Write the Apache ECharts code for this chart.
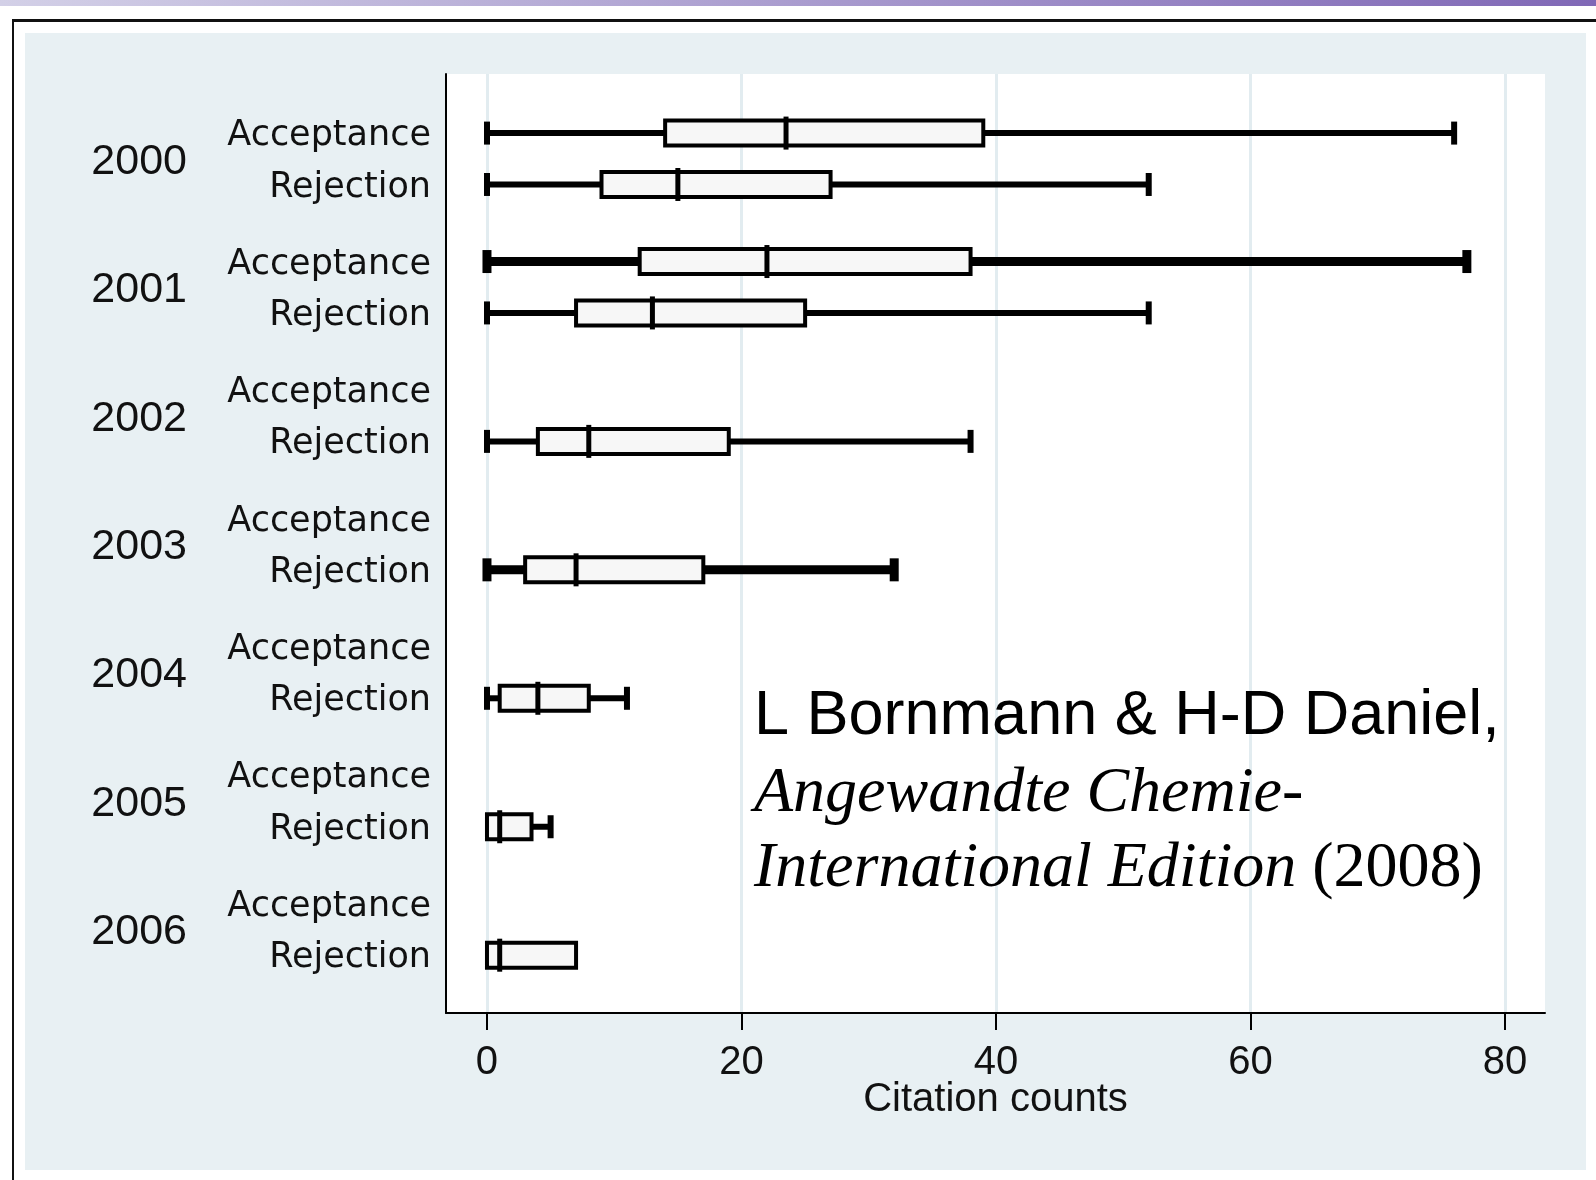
<!DOCTYPE html>
<html>
<head>
<meta charset="utf-8">
<script src="https://cdn.jsdelivr.net/npm/echarts@6/dist/echarts.min.js"></script>
<style>
  html, body { margin: 0; padding: 0; background: #ffffff; }
  #chart { width: 1596px; height: 1180px; }
</style>
</head>
<body>
<div id="chart"></div>
<script>
// Citation counts of manuscripts by publication year and editorial decision
const years = ['2000', '2001', '2002', '2003', '2004', '2005', '2006'];
const decisions = ['Acceptance', 'Rejection'];
// [min, Q1, median, Q3, max] per year; null where no box is drawn
const acceptanceStats = [
  [0, 14, 23.5, 39, 76],
  [0, 12, 22, 38, 77],
  null, null, null, null, null
];
const rejectionStats = [
  [0, 9, 15, 27, 52],
  [0, 7, 13, 25, 52],
  [0, 4, 8, 19, 38],
  [0, 3, 7, 17, 32],
  [0, 1, 4, 8, 11],
  [0, 0, 1, 3.5, 5],
  [0, 0, 1, 7, 7]
];
const xTicks = [0, 20, 40, 60, 80];
const xTitle = 'Citation counts';
const sourceLine1 = 'L Bornmann & H-D Daniel,';
const sourceLine2 = 'Angewandte Chemie-';
const sourceLine3a = 'International Edition';
const sourceLine3b = '(2008)';

// rows drawn with heavier whiskers
const heavyRows = new Set(['2001 Acceptance', '2003 Rejection']);

// each year takes five slots on the vertical axis: acceptance, year label, rejection, gap, gap
const SLOTS_PER_YEAR = 5;
const slotOf = (yearIdx, decIdx) => yearIdx * SLOTS_PER_YEAR + decIdx * 2;

const boxData = [];
const rowKeys = [];
years.forEach((yr, i) => {
  [acceptanceStats[i], rejectionStats[i]].forEach((s, d) => {
    if (!s) return;
    boxData.push([slotOf(i, d)].concat(s));
    rowKeys.push(yr + ' ' + decisions[d]);
  });
});

const labelSlots = [];
const labelText = {};
years.forEach((yr, i) => {
  labelSlots.push(slotOf(i, 0), slotOf(i, 0) + 1, slotOf(i, 1));
  labelText[slotOf(i, 0)] = decisions[0];
  labelText[slotOf(i, 0) + 1] = '{yr|' + yr + '}';
  labelText[slotOf(i, 1)] = decisions[1];
});

function renderBox(params, api) {
  const y = api.value(0);
  const vMin = api.value(1), q1 = api.value(2), med = api.value(3), q3 = api.value(4), vMax = api.value(5);
  const px = v => api.coord([v, y])[0];
  const cy = api.coord([q1, y])[1];
  const heavy = heavyRows.has(rowKeys[params.dataIndex]);
  const ww = heavy ? 9 : 6;
  const boxH = 25, capH = 23, medH = 33;
  const ink = '#000';
  const children = [];
  const seg = (x1, y1, x2, y2, w) => ({
    type: 'line',
    shape: { x1: x1, y1: y1, x2: x2, y2: y2 },
    style: { stroke: ink, lineWidth: w, lineCap: 'butt' }
  });
  if (q1 > vMin) {
    children.push(seg(px(vMin), cy, px(q1), cy, ww));
    children.push(seg(px(vMin), cy - capH / 2, px(vMin), cy + capH / 2, ww));
  }
  if (vMax > q3) {
    children.push(seg(px(q3), cy, px(vMax), cy, ww));
    children.push(seg(px(vMax), cy - capH / 2, px(vMax), cy + capH / 2, ww));
  }
  children.push({
    type: 'rect',
    shape: { x: px(q1), y: cy - boxH / 2, width: px(q3) - px(q1), height: boxH },
    style: { fill: '#f7f7f7', stroke: ink, lineWidth: 4 }
  });
  children.push(seg(px(med), cy - medH / 2, px(med), cy + medH / 2, 5));
  return { type: 'group', children: children };
}

const chart = echarts.init(document.getElementById('chart'), null, { renderer: 'canvas' });

const option = {
  backgroundColor: '#ffffff',
  animation: false,
  graphic: [
    {
      type: 'rect', z: -100,
      shape: { x: 0, y: 0, width: 1596, height: 6 },
      style: {
        fill: new echarts.graphic.LinearGradient(0, 0, 1, 0, [
          { offset: 0, color: '#d3d0e7' },
          { offset: 1, color: '#8068b6' }
        ])
      }
    },
    { type: 'rect', z: -100, shape: { x: 12, y: 19, width: 1584, height: 3 }, style: { fill: '#111' } },
    { type: 'rect', z: -100, shape: { x: 12, y: 19, width: 2, height: 1161 }, style: { fill: '#111' } },
    { type: 'rect', z: -100, shape: { x: 25, y: 33, width: 1561, height: 1137 }, style: { fill: '#e8f0f3' } },
    {
      type: 'text', z: 100, left: 754, top: 685,
      style: { text: sourceLine1, fontFamily: 'Liberation Sans', fontSize: 63, fill: '#000' }
    },
    {
      type: 'text', z: 100, left: 754, top: 762,
      style: { text: sourceLine2, fontFamily: 'Liberation Serif', fontStyle: 'italic', fontSize: 64, fill: '#000' }
    },
    {
      type: 'text', z: 100, left: 754, top: 837,
      style: {
        text: '{i|' + sourceLine3a + '} {r|' + sourceLine3b + '}',
        rich: {
          i: { fontFamily: 'Liberation Serif', fontStyle: 'italic', fontSize: 64, fill: '#000', color: '#000' },
          r: { fontFamily: 'Liberation Serif', fontSize: 64, fill: '#000', color: '#000' }
        },
        fontFamily: 'Liberation Serif', fontSize: 64, fill: '#000'
      }
    }
  ],
  grid: {
    left: 446, top: 74, width: 1099, height: 939,
    show: true, backgroundColor: '#ffffff', borderWidth: 0
  },
  xAxis: {
    type: 'value',
    min: -3.22, max: 83.14,
    position: 'bottom',
    axisLine: { show: true, onZero: false, lineStyle: { color: '#000', width: 2 } },
    axisTick: { show: true, customValues: xTicks, length: 17, lineStyle: { color: '#000', width: 2 } },
    axisLabel: {
      customValues: xTicks, margin: 30,
      fontFamily: 'Liberation Sans', fontSize: 40, color: '#111'
    },
    splitLine: { show: true, lineStyle: { color: '#e2ecf0', width: 3 } },
    name: xTitle, nameLocation: 'middle', nameGap: 67, nameMoveOverlap: false,
    nameTextStyle: { fontFamily: 'Liberation Sans', fontSize: 40, color: '#111' }
  },
  yAxis: {
    type: 'value',
    inverse: true,
    min: -2.3, max: 34.25,
    axisLine: { show: true, onZero: false, lineStyle: { color: '#000', width: 2 } },
    axisTick: { show: false },
    splitLine: { show: false },
    axisLabel: {
      customValues: labelSlots,
      margin: 15,
      padding: [6, 0, 0, 0],
      fontFamily: 'DejaVu Sans', fontSize: 35, color: '#111',
      formatter: v => labelText[v] || '',
      rich: {
        yr: { fontFamily: 'Liberation Sans', fontSize: 43, color: '#111', padding: [0, 244, 0, 0] }
      }
    }
  },
  series: [{
    type: 'custom',
    coordinateSystem: 'cartesian2d',
    renderItem: renderBox,
    encode: { x: [1, 2, 3, 4, 5], y: 0 },
    clip: false,
    data: boxData
  }]
};

chart.setOption(option);
</script>
</body>
</html>
